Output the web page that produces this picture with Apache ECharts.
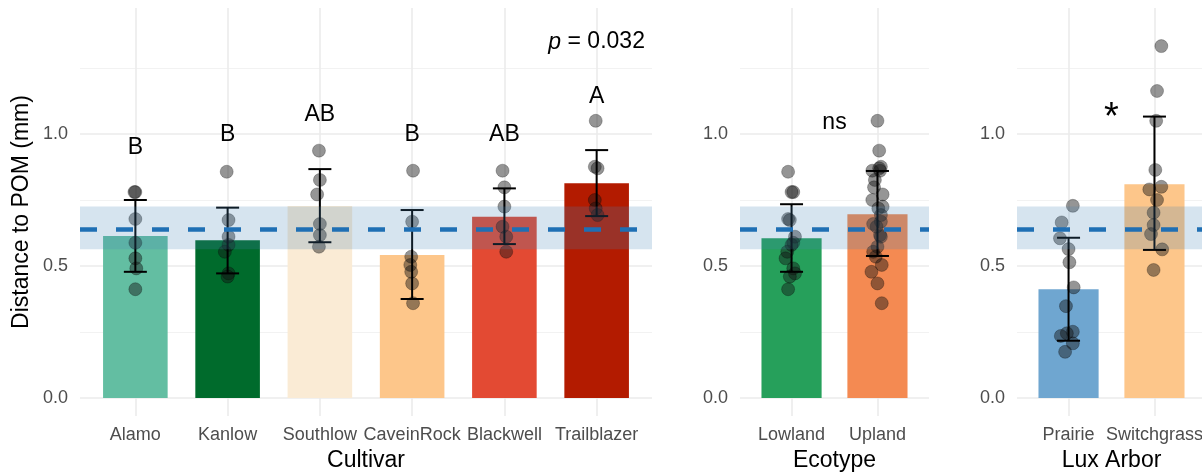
<!DOCTYPE html>
<html><head><meta charset="utf-8">
<script src="https://cdn.jsdelivr.net/npm/echarts@6/dist/echarts.min.js"></script>
<style>html,body{margin:0;padding:0;background:#fff}#c{width:1202px;height:474px}</style>
</head><body><div id="c"></div>
<script>
// ---------- data ----------
const cultivars = ['Alamo','Kanlow','Southlow','CaveinRock','Blackwell','Trailblazer'];
const cultivarMeans = [0.614, 0.598, 0.727, 0.542, 0.687, 0.813];
const cultivarUpper = [0.750, 0.721, 0.867, 0.712, 0.794, 0.939];
const cultivarLower = [0.478, 0.472, 0.590, 0.375, 0.583, 0.689];
const cultivarColors = ['#63bea2','#006b2c','#faebd5','#fdc68a','#e34a33','#b31b00'];
const cultivarLetters = ['B','B','AB','B','AB','A'];
const cultivarLetterY = [0.947, 0.996, 1.072, 0.996, 0.996, 1.140];

const alamoPts = [0.78, 0.78, 0.678, 0.588, 0.529, 0.491, 0.412];
const alamoJit = [0.0, -0.01, 0.0, 0.0, 0.0, 0.01, 0.0];
const kanlowPts = [0.857, 0.674, 0.611, 0.58, 0.554, 0.472, 0.46];
const kanlowJit = [-0.01, 0.01, 0.01, 0.01, -0.03, 0.01, 0.0];
const southlowPts = [0.937, 0.826, 0.771, 0.659, 0.617, 0.573];
const southlowJit = [-0.01, 0.0, -0.03, 0.0, 0.0, -0.01];
const caveinPts = [0.861, 0.668, 0.535, 0.504, 0.478, 0.434, 0.359];
const caveinJit = [0.01, 0.0, -0.01, -0.02, -0.01, 0.0, 0.01];
const blackwellPts = [0.861, 0.798, 0.725, 0.649, 0.611, 0.554];
const blackwellJit = [-0.02, 0.0, 0.0, -0.02, 0.02, 0.02];
const trailPts = [1.05, 0.876, 0.87, 0.75, 0.718, 0.693];
const trailJit = [-0.01, -0.02, 0.01, -0.02, -0.01, 0.01];

const ecotypes = ['Lowland','Upland'];
const ecotypeMeans = [0.605, 0.696];
const ecotypeUpper = [0.734, 0.860];
const ecotypeLower = [0.478, 0.538];
const ecotypeColors = ['#26a05b','#f48a52'];
const lowlandPts = alamoPts.concat(kanlowPts);
const lowlandJit = [0.02, 0.0, -0.04, 0.02, -0.07, 0.02, -0.04, -0.04, -0.02, 0.04, 0.0, -0.05, 0.04, -0.02];
const uplandPts = southlowPts.concat(caveinPts, blackwellPts, trailPts);
const uplandJit = [0.02, -0.03, 0.06, -0.05, 0.03, 0.0, -0.06, 0.04, -0.02, 0.05, -0.07, 0.0, 0.05,
                   0.03, -0.04, 0.06, -0.01, 0.04, -0.05, 0.0, 0.04, 0.02, -0.06, 0.01, 0.04];

const sites = ['Prairie','Switchgrass'];
const siteMeans = [0.412, 0.810];
const siteUpper = [0.607, 1.066];
const siteLower = [0.217, 0.561];
const siteColors = ['#6fa6d0','#fdc68a'];
const prairiePts = [0.728, 0.665, 0.605, 0.564, 0.514, 0.419, 0.348, 0.251, 0.245, 0.235, 0.207, 0.175];
const prairieJit = [0.05, -0.08, -0.10, 0.0, 0.01, 0.06, -0.03, 0.05, -0.02, -0.09, 0.05, -0.04];
const switchPts = [1.333, 1.163, 1.05, 0.864, 0.80, 0.79, 0.75, 0.702, 0.655, 0.621, 0.563, 0.485];
const switchJit = [0.08, 0.03, 0.02, 0.01, 0.08, -0.06, 0.03, -0.01, -0.01, -0.04, 0.09, -0.01];

const refLine = 0.643;
const refLow = 0.563;
const refHigh = 0.725;

const yMajorTicks = [0, 0.5, 1.0];
const yMinorTicks = [0.25, 0.75, 1.25];
const axisTitles = ['Cultivar','Ecotype','Lux Arbor'];
const yTitle = 'Distance to POM (mm)';

// annotation: [panel, x(category position), y, text]
const annotPanel = [0, 1, 2];
const annotX = [6, 1.5, 1.5];
const annotY = [1.348, 1.042, 1.06];
const annotText = ['{i|p} = 0.032', 'ns', '*'];

// ---------- layout / build ----------
const FONT = 'Liberation Sans, Arial, Helvetica, sans-serif';
const Y_MIN = -0.0682, Y_MAX = 1.4773;
const gridBoxes = [
  {left: 80, top: 8, width: 572, height: 408},
  {left: 740, top: 8, width: 189, height: 408},
  {left: 1017, top: 8, width: 189, height: 408}
];
const panels = [
  {cats: cultivars, means: cultivarMeans, up: cultivarUpper, lo: cultivarLower, colors: cultivarColors,
   pts: [alamoPts, kanlowPts, southlowPts, caveinPts, blackwellPts, trailPts],
   jit: [alamoJit, kanlowJit, southlowJit, caveinJit, blackwellJit, trailJit],
   letters: cultivarLetters, letterY: cultivarLetterY},
  {cats: ecotypes, means: ecotypeMeans, up: ecotypeUpper, lo: ecotypeLower, colors: ecotypeColors,
   pts: [lowlandPts, uplandPts], jit: [lowlandJit, uplandJit], letters: [], letterY: []},
  {cats: sites, means: siteMeans, up: siteUpper, lo: siteLower, colors: siteColors,
   pts: [prairiePts, switchPts], jit: [prairieJit, switchJit], letters: [], letterY: []}
];

const grids = [], xAxes = [], yAxes = [], series = [];
panels.forEach((p, i) => {
  grids.push(Object.assign({containLabel: false, outerBoundsMode: 'none'}, gridBoxes[i]));
  const idx = p.cats.map((c, k) => k + 1);
  xAxes.push({
    gridIndex: i, type: 'value', min: 0.4, max: p.cats.length + 0.6,
    axisLine: {show: false},
    axisTick: {show: false, customValues: idx},
    axisLabel: {customValues: idx, formatter: v => p.cats[Math.round(v) - 1] || '',
      margin: 10, fontSize: 18, color: '#4d4d4d', fontFamily: FONT, hideOverlap: false},
    splitLine: {show: true, lineStyle: {color: '#ebebeb', width: 1.6}},
    name: axisTitles[i], nameLocation: 'middle', nameGap: 33,
    nameTextStyle: {fontSize: 23, color: '#000', fontFamily: FONT}
  });
  yAxes[i] = {
    gridIndex: i, type: 'value', min: Y_MIN, max: Y_MAX,
    axisLine: {show: false},
    axisTick: {show: false, customValues: yMajorTicks},
    axisLabel: {customValues: yMajorTicks, formatter: v => v.toFixed(1), margin: 12,
      fontSize: 18, color: '#4d4d4d', fontFamily: FONT},
    splitLine: {show: true, lineStyle: {color: '#ebebeb', width: 1.6}},
    name: i === 0 ? yTitle : '', nameLocation: 'middle', nameGap: 47, nameRotate: 90,
    nameTextStyle: {fontSize: 23, color: '#000', fontFamily: FONT}
  };
  yAxes[i + 3] = {
    gridIndex: i, type: 'value', min: Y_MIN, max: Y_MAX,
    axisLine: {show: false},
    axisTick: {show: false, customValues: yMinorTicks},
    axisLabel: {show: false},
    splitLine: {show: true, lineStyle: {color: '#f0f0f0', width: 0.9}}
  };

  // bars
  series.push({
    type: 'bar', xAxisIndex: i, yAxisIndex: i, z: 2, barWidth: '70%',
    data: p.means.map((m, k) => ({value: [k + 1, m], itemStyle: {color: p.colors[k]}})),
    markArea: {silent: true, z: 8, itemStyle: {color: 'rgba(70,130,180,0.22)'},
      data: [[{yAxis: refLow}, {yAxis: refHigh}]]},
    markLine: {silent: true, z: 9, symbol: ['none', 'none'], label: {show: false},
      lineStyle: {color: '#1f6fb4', width: 4.5, type: [17, 19], opacity: 1},
      emphasis: {disabled: true},
      data: [{yAxis: refLine}]}
  });
  // points
  const pd = [];
  p.pts.forEach((arr, k) => arr.forEach((v, j) => pd.push([k + 1 + p.jit[k][j], v])));
  series.push({
    type: 'scatter', xAxisIndex: i, yAxisIndex: i, z: 3, symbolSize: 13,
    itemStyle: {color: 'rgba(20,20,20,0.45)', borderColor: 'rgba(0,0,0,0.25)', borderWidth: 1, opacity: 1},
    data: pd
  });
  // error bars
  series.push({
    type: 'custom', xAxisIndex: i, yAxisIndex: i, z: 4,
    data: p.cats.map((c, k) => [k + 1, p.lo[k], p.up[k]]),
    encode: {x: 0, y: [1, 2]},
    renderItem: (params, api) => {
      const x = api.value(0);
      const a = api.coord([x, api.value(1)]);
      const b = api.coord([x, api.value(2)]);
      const hw = 11.5, st = {stroke: '#000', lineWidth: 2};
      return {type: 'group', children: [
        {type: 'line', shape: {x1: a[0], y1: a[1], x2: b[0], y2: b[1]}, style: st},
        {type: 'line', shape: {x1: a[0] - hw, y1: a[1], x2: a[0] + hw, y2: a[1]}, style: st},
        {type: 'line', shape: {x1: b[0] - hw, y1: b[1], x2: b[0] + hw, y2: b[1]}, style: st}
      ]};
    }
  });
  // letters
  if (p.letters.length) {
    series.push({
      type: 'custom', xAxisIndex: i, yAxisIndex: i, z: 6,
      data: p.letters.map((t, k) => [k + 1, p.letterY[k]]),
      renderItem: (params, api) => {
        const c = api.coord([api.value(0), api.value(1)]);
        return {type: 'text', x: c[0], y: c[1], style: {text: p.letters[params.dataIndex],
          align: 'center', verticalAlign: 'middle', fontSize: 23, fontFamily: FONT, fill: '#000'}};
      }
    });
  }
});
// annotations
annotPanel.forEach((pi, k) => {
  series.push({
    type: 'custom', xAxisIndex: pi, yAxisIndex: pi, z: 6,
    data: [[annotX[k], annotY[k]]],
    renderItem: (params, api) => {
      const c = api.coord([api.value(0), api.value(1)]);
      const star = annotText[k] === '*';
      return {type: 'text', x: c[0], y: c[1], style: {text: annotText[k],
        align: 'center', verticalAlign: 'middle', fontSize: star ? 38 : 23, fontFamily: FONT, fill: '#000',
        rich: {i: {fontStyle: 'italic', fontSize: 23, fontFamily: FONT, fill: '#000'}}}};
    }
  });
});

const chart = echarts.init(document.getElementById('c'), null, {renderer: 'canvas'});
chart.setOption({
  animation: false,
  backgroundColor: '#fff',
  textStyle: {fontFamily: FONT},
  grid: grids, xAxis: xAxes, yAxis: yAxes, series: series
});
</script></body></html>
